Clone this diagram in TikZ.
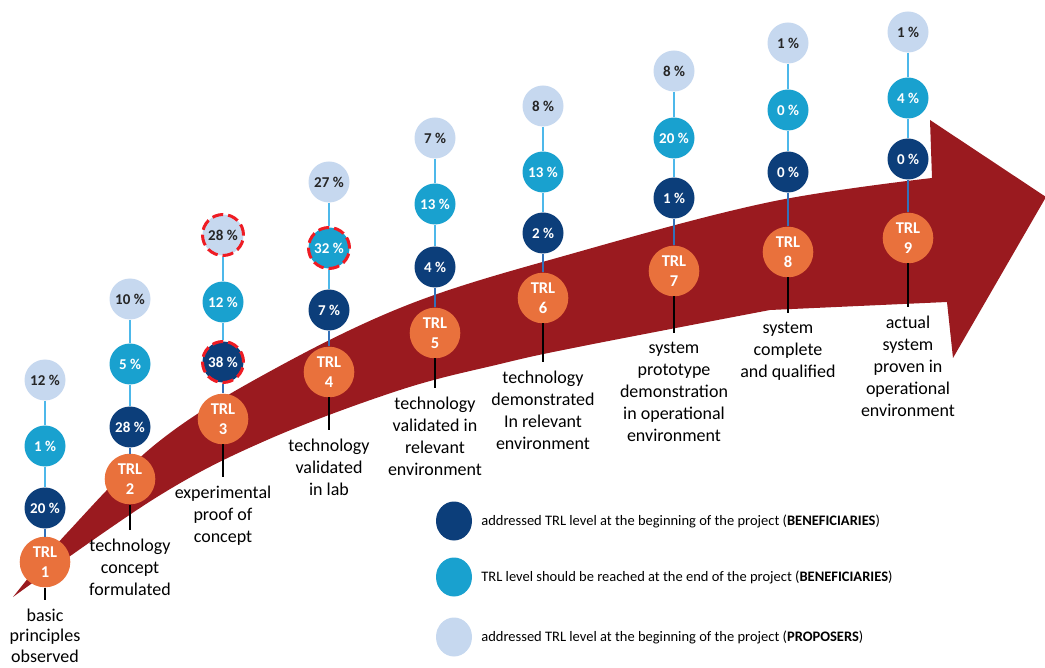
\documentclass[tikz,border=0pt]{standalone}
\usepackage{fontspec}
\setmainfont{Carlito}
\usepackage{tikz}
\usetikzlibrary{positioning,shapes.geometric}

\definecolor{arrowred}{HTML}{9A1A1F}
\definecolor{trlorange}{HTML}{E9713C}
\definecolor{begblue}{HTML}{0C3E7A}
\definecolor{endblue}{HTML}{19A1CF}
\definecolor{propblue}{HTML}{C6D8EF}
\definecolor{linkblue}{HTML}{4DB8EA}
\definecolor{lowblue}{HTML}{3371B9}
\definecolor{hlred}{HTML}{EE1C24}

\begin{document}
\begin{tikzpicture}[x=1pt, y=-1pt,
  trl/.style={circle, fill=trlorange, minimum size=50.6pt, inner sep=0pt,
    text=white, align=center, font=\fontsize{16.5}{20}\selectfont\bfseries},
  pct/.style={circle, minimum size=41pt, inner sep=0pt,
    font=\fontsize{15}{17}\selectfont\bfseries},
  pb/.style={pct, fill=begblue, text=white},
  pe/.style={pct, fill=endblue, text=white},
  pp/.style={pct, fill=propblue, text=black!85},
  hilite/.style={draw=hlred, line width=3pt, dash pattern=on 11pt off 5pt},
  lbl/.style={anchor=north, align=center, inner xsep=0pt, inner ysep=9pt,
    outer sep=0pt, font=\fontsize{18}{22}\selectfont},
  link/.style={draw=linkblue, line width=1.5pt},
  lowlink/.style={draw=lowblue, line width=1.5pt},
  stem/.style={draw=black, line width=1.4pt},
  legdot/.style={ellipse, minimum width=36pt, minimum height=39pt, inner sep=0pt},
  legtext/.style={inner sep=0pt, font=\fontsize{14.5}{17}\selectfont}]
  \useasboundingbox (0,0) rectangle (1045,668);

  % the curved arrow behind the levels
  \fill[arrowred] plot[smooth, tension=0.6] coordinates {(13,597) (67,533)
      (157,443) (267,373) (410,304) (578,252) (770,202) (932,178)}
    -- (930,120) -- (1046,197) -- (953,358) -- (947,302)
    -- plot[smooth, tension=0.6] coordinates {(770,310) (578,347) (500,364)
      (400,390) (267,440) (157,497) (13,597)} -- cycle;

  % TRL 1
  \node[pp] (P1) at (45,380) {12 \%};
  \node[pe] (E1) at (45,446) {1 \%};
  \node[pb] (B1) at (45,508) {20 \%};
  \node[trl] (T1) at (45,562) {TRL\\1};
  \node[lbl, font=\fontsize{18}{20.5}\selectfont] (L1) at (45,600) {basic\\principles\\observed};
  % TRL 2
  \node[pp] (P2) at (130,299) {10 \%};
  \node[pe] (E2) at (130,364) {5 \%};
  \node[pb] (B2) at (130,427) {28 \%};
  \node[trl] (T2) at (130,479) {TRL\\2};
  \node[lbl] (L2) at (130,530) {technology\\concept\\formulated};
  % TRL 3
  \node[pp, hilite] (P3) at (223,235) {28 \%};
  \node[pe] (E3) at (223,302) {12 \%};
  \node[pb, hilite] (B3) at (223,362) {38 \%};
  \node[trl] (T3) at (223,419) {TRL\\3};
  \node[lbl] (L3) at (223,477) {experimental\\proof of\\concept};
  % TRL 4
  \node[pp] (P4) at (329,182) {27 \%};
  \node[pe, hilite] (E4) at (329,248) {32 \%};
  \node[pb] (B4) at (329,310) {7 \%};
  \node[trl] (T4) at (329,372) {TRL\\4};
  \node[lbl] (L4) at (329,430) {technology\\validated\\in lab};
  % TRL 5
  \node[pp] (P5) at (435,138) {7 \%};
  \node[pe] (E5) at (435,204) {13 \%};
  \node[pb] (B5) at (435,267) {4 \%};
  \node[trl] (T5) at (435,333) {TRL\\5};
  \node[lbl] (L5) at (435,388) {technology\\validated in\\relevant\\environment};
  % TRL 6
  \node[pp] (P6) at (543,106) {8 \%};
  \node[pe] (E6) at (543,172) {13 \%};
  \node[pb] (B6) at (543,233) {2 \%};
  \node[trl] (T6) at (543,298) {TRL\\6};
  \node[lbl] (L6) at (543,362) {technology\\demonstrated\\In relevant\\environment};
  % TRL 7
  \node[pp] (P7) at (674,71) {8 \%};
  \node[pe] (E7) at (674,138) {20 \%};
  \node[pb] (B7) at (674,198) {1 \%};
  \node[trl] (T7) at (674,271) {TRL\\7};
  \node[lbl] (L7) at (674,333) {system\\prototype\\demonstration\\in operational\\environment};
  % TRL 8
  \node[pp] (P8) at (788,43) {1 \%};
  \node[pe] (E8) at (788,110) {0 \%};
  \node[pb] (B8) at (788,172) {0 \%};
  \node[trl] (T8) at (788,252) {TRL\\8};
  \node[lbl] (L8) at (788,313) {system\\complete\\and qualified};
  % TRL 9
  \node[pp] (P9) at (908,32) {1 \%};
  \node[pe] (E9) at (908,98) {4 \%};
  \node[pb] (B9) at (908,159) {0 \%};
  \node[trl] (T9) at (908,238) {TRL\\9};
  \node[lbl] (L9) at (908,307) {actual\\system\\proven in\\operational\\environment};

  % stems joining each column
  \draw[link] (P1) -- (E1) -- (B1);  \draw[lowlink] (B1) -- (T1);  \draw[stem] (T1) -- (L1);
  \draw[link] (P2) -- (E2) -- (B2);  \draw[lowlink] (B2) -- (T2);  \draw[stem] (T2) -- (L2);
  \draw[link] (P3) -- (E3) -- (B3);  \draw[lowlink] (B3) -- (T3);  \draw[stem] (T3) -- (L3);
  \draw[link] (P4) -- (E4) -- (B4);  \draw[lowlink] (B4) -- (T4);  \draw[stem] (T4) -- (L4);
  \draw[link] (P5) -- (E5) -- (B5);  \draw[lowlink] (B5) -- (T5);  \draw[stem] (T5) -- (L5);
  \draw[link] (P6) -- (E6) -- (B6);  \draw[lowlink] (B6) -- (T6);  \draw[stem] (T6) -- (L6);
  \draw[link] (P7) -- (E7) -- (B7);  \draw[lowlink] (B7) -- (T7);  \draw[stem] (T7) -- (L7);
  \draw[link] (P8) -- (E8) -- (B8);  \draw[lowlink] (B8) -- (T8);  \draw[stem] (T8) -- (L8);
  \draw[link] (P9) -- (E9) -- (B9);  \draw[lowlink] (B9) -- (T9);  \draw[stem] (T9) -- (L9);

  % legend
  \node[legdot, fill=begblue] (K1) at (454,521) {};
  \node[legdot, fill=endblue] (K2) at (454,577) {};
  \node[legdot, fill=propblue] (K3) at (454,637) {};
  \node[legtext, right=9pt of K1] (D1) {addressed TRL level at the beginning of the project (\textbf{BENEFICIARIES})};
  \node[legtext, right=9pt of K2] (D2) {TRL level should be reached at the end of the project (\textbf{BENEFICIARIES})};
  \node[legtext, right=9pt of K3] (D3) {addressed TRL level at the beginning of the project (\textbf{PROPOSERS})};
\end{tikzpicture}
\end{document}
